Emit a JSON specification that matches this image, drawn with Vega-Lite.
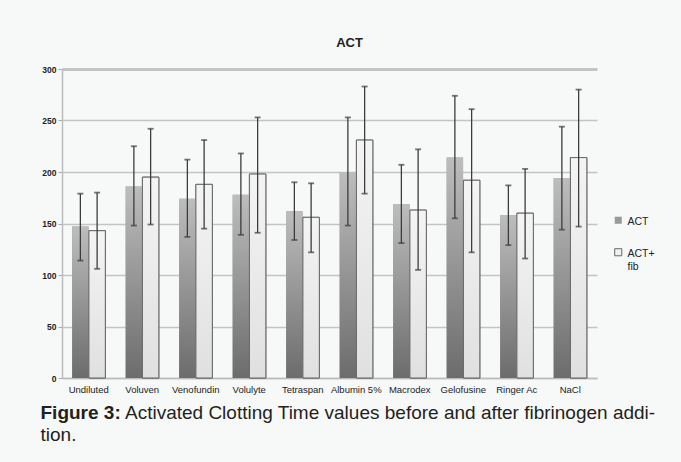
{
  "$schema": "https://vega.github.io/schema/vega-lite/v6.json",
  "autosize": {"type": "none"},
  "padding": {"left": 62, "top": 69, "right": 84, "bottom": 84},
  "width": 535,
  "height": 309,
  "background": "#f7f8f8",
  "title": {"text": "ACT", "font": "Liberation Sans", "fontSize": 13, "fontWeight": "bold", "color": "#222222", "anchor": "middle", "dx": 20, "offset": 15},
  "config": {
    "view": {"stroke": null},
    "legend": {"padding": 0}
  },
  "data": {"values": [
    {"fluid": "Undiluted", "series": "ACT", "mean": 147, "lo": 114, "hi": 179},
    {"fluid": "Undiluted", "series": "ACT+fib", "mean": 143, "lo": 106, "hi": 180},
    {"fluid": "Voluven", "series": "ACT", "mean": 186, "lo": 148, "hi": 225},
    {"fluid": "Voluven", "series": "ACT+fib", "mean": 195, "lo": 149, "hi": 242},
    {"fluid": "Venofundin", "series": "ACT", "mean": 174, "lo": 137, "hi": 212},
    {"fluid": "Venofundin", "series": "ACT+fib", "mean": 188, "lo": 145, "hi": 231},
    {"fluid": "Volulyte", "series": "ACT", "mean": 178, "lo": 139, "hi": 218},
    {"fluid": "Volulyte", "series": "ACT+fib", "mean": 198, "lo": 141, "hi": 253},
    {"fluid": "Tetraspan", "series": "ACT", "mean": 162, "lo": 134, "hi": 190},
    {"fluid": "Tetraspan", "series": "ACT+fib", "mean": 156, "lo": 122, "hi": 189},
    {"fluid": "Albumin 5%", "series": "ACT", "mean": 200, "lo": 148, "hi": 253},
    {"fluid": "Albumin 5%", "series": "ACT+fib", "mean": 231, "lo": 179, "hi": 283},
    {"fluid": "Macrodex", "series": "ACT", "mean": 169, "lo": 131, "hi": 207},
    {"fluid": "Macrodex", "series": "ACT+fib", "mean": 163, "lo": 105, "hi": 222},
    {"fluid": "Gelofusine", "series": "ACT", "mean": 214, "lo": 155, "hi": 274},
    {"fluid": "Gelofusine", "series": "ACT+fib", "mean": 192, "lo": 122, "hi": 261},
    {"fluid": "Ringer Ac", "series": "ACT", "mean": 158, "lo": 129, "hi": 187},
    {"fluid": "Ringer Ac", "series": "ACT+fib", "mean": 160, "lo": 116, "hi": 203},
    {"fluid": "NaCl", "series": "ACT", "mean": 194, "lo": 144, "hi": 244},
    {"fluid": "NaCl", "series": "ACT+fib", "mean": 214, "lo": 147, "hi": 280}
  ]},
  "encoding": {
    "x": {
      "field": "fluid", "type": "nominal", "sort": null,
      "scale": {"paddingInner": 0.38, "paddingOuter": 0.19},
      "axis": {
        "title": ["\u200b\u00a0\u00a0\u00a0\u00a0\u00a0\u00a0\u00a0\u00a0\u00a0\u00a0\u00a0\u00a0\u00a0\u00a0\u00a0\u00a0Activated Clotting Time values before and after fibrinogen addi-", "tion."],
        "titleX": -22, "titleY": 40, "titleAlign": "left", "titleAnchor": "start", "titleBaseline": "alphabetic",
        "titleFont": "Liberation Sans", "titleFontSize": 19, "titleFontWeight": "normal", "titleColor": "#231f20",
        "titleLineHeight": 22, "titleLimit": 1000,
        "labelAngle": 0, "labelFont": "Liberation Sans", "labelFontSize": 9.5, "labelColor": "#222222", "labelPadding": 6,
        "ticks": false, "domainColor": "#bbbbbb", "domainWidth": 1.5, "grid": false
      }
    },
    "xOffset": {"field": "series", "type": "nominal", "sort": ["ACT", "ACT+fib"], "scale": {"paddingInner": 0.02}}
  },
  "layer": [
    {
      "mark": {"type": "bar", "strokeWidth": 1},
      "encoding": {
        "y": {
          "field": "mean", "type": "quantitative", "title": "Figure 3:",
          "scale": {"domain": [0, 300], "nice": false},
          "axis": {
            "values": [0, 50, 100, 150, 200, 250, 300],
            "titleAngle": 0, "titleX": -22, "titleY": 349, "titleAlign": "left", "titleBaseline": "alphabetic",
            "titleFont": "Liberation Sans", "titleFontSize": 19, "titleFontWeight": "bold", "titleColor": "#231f20",
            "labelFont": "Liberation Sans", "labelFontSize": 8.5, "labelFontWeight": "bold", "labelColor": "#222222", "labelPadding": 2,
            "tickSize": 4, "tickColor": "#aaaaaa", "domainColor": "#bbbbbb", "domainWidth": 1.5,
            "gridColor": "#c4c4c4",
            "gridWidth": {"condition": {"test": "datum.value == 300", "value": 3}, "value": 1.5}
          }
        },
        "fill": {
          "field": "series", "type": "nominal",
          "scale": {"domain": ["ACT", "ACT+fib"], "range": ["#9a9a9a", "#f0f0f0"]},
          "legend": {
            "title": null, "orient": "none", "legendX": 551, "legendY": 146,
            "symbolType": "square", "symbolSize": 50, "symbolStrokeWidth": 1,
            "labelFont": "Liberation Sans", "labelFontSize": 10.5, "labelColor": "#222222",
            "labelBaseline": "top", "rowPadding": 18, "labelOffset": 4,
            "labelExpr": "datum.label == 'ACT+fib' ? ['ACT+', 'fib'] : datum.label",
            "encode": {"labels": {"update": {"dy": {"value": -3}}}}
          }
        },
        "stroke": {
          "field": "series", "type": "nominal",
          "scale": {"domain": ["ACT", "ACT+fib"], "range": ["transparent", "#666666"]}
        }
      }
    },
    {
      "transform": [{"filter": "datum.series == 'ACT'"}],
      "mark": {"type": "bar", "fill": {"gradient": "linear", "x1": 0, "y1": 1, "x2": 0, "y2": 0, "stops": [{"offset": 0, "color": "#6c6c6c"}, {"offset": 1, "color": "#bdbdbd"}]}},
      "encoding": {"y": {"field": "mean", "type": "quantitative", "title": "Figure 3:"}}
    },
    {
      "transform": [{"filter": "datum.series == 'ACT+fib'"}],
      "mark": {"type": "bar", "stroke": "#666666", "strokeWidth": 1, "fill": {"gradient": "linear", "x1": 0, "y1": 1, "x2": 0, "y2": 0, "stops": [{"offset": 0, "color": "#e0e0e0"}, {"offset": 1, "color": "#f4f4f4"}]}},
      "encoding": {"y": {"field": "mean", "type": "quantitative", "title": "Figure 3:"}}
    },
    {
      "mark": {"type": "rule", "color": "#3c3c3c", "strokeWidth": 1.3},
      "encoding": {
        "y": {"field": "lo", "type": "quantitative", "title": "Figure 3:"},
        "y2": {"field": "hi"}
      }
    },
    {
      "mark": {"type": "tick", "color": "#3c3c3c", "thickness": 1.8, "size": 6},
      "encoding": {"y": {"field": "lo", "type": "quantitative", "title": "Figure 3:"}}
    },
    {
      "mark": {"type": "tick", "color": "#3c3c3c", "thickness": 1.8, "size": 6},
      "encoding": {"y": {"field": "hi", "type": "quantitative", "title": "Figure 3:"}}
    }
  ]
}
